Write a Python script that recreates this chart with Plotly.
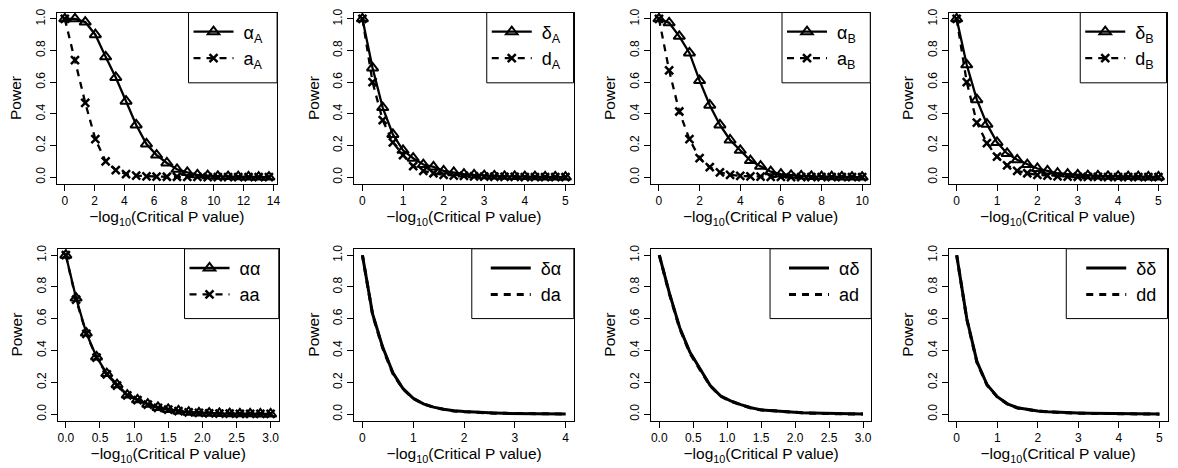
import plotly.graph_objects as go

# ---------------- data ----------------
x_p1 = [0, 0.68, 1.37, 2.05, 2.74, 3.42, 4.11, 4.79, 5.48, 6.16, 6.85, 7.53, 8.22, 8.9, 9.59, 10.27, 10.96, 11.64, 12.33, 13.01, 13.7]
alpha_A = [1.0, 1.0, 0.98, 0.90, 0.76, 0.63, 0.48, 0.33, 0.21, 0.14, 0.09, 0.05, 0.03, 0.015, 0.01, 0.006, 0.004, 0.003, 0.002, 0.001, 0.001]
a_A = [1.0, 0.74, 0.47, 0.24, 0.10, 0.045, 0.02, 0.01, 0.006, 0.004, 0.003, 0.003, 0.002, 0.002, 0.001, 0.001, 0.001, 0.0, 0.0, 0.0, 0.0]

x_p2 = [0, 0.25, 0.5, 0.75, 1.0, 1.25, 1.5, 1.75, 2.0, 2.25, 2.5, 2.75, 3.0, 3.25, 3.5, 3.75, 4.0, 4.25, 4.5, 4.75, 5.0]
delta_A = [1.0, 0.69, 0.44, 0.27, 0.17, 0.12, 0.08, 0.065, 0.04, 0.03, 0.02, 0.015, 0.01, 0.008, 0.006, 0.005, 0.004, 0.003, 0.002, 0.002, 0.001]
d_A = [1.0, 0.60, 0.36, 0.22, 0.14, 0.07, 0.04, 0.025, 0.015, 0.01, 0.008, 0.006, 0.004, 0.003, 0.002, 0.002, 0.001, 0.001, 0.001, 0.0, 0.0]

x_p3 = [0, 0.5, 1.0, 1.5, 2.0, 2.5, 3.0, 3.5, 4.0, 4.5, 5.0, 5.5, 6.0, 6.5, 7.0, 7.5, 8.0, 8.5, 9.0, 9.5, 10.0]
alpha_B = [1.0, 0.975, 0.89, 0.785, 0.61, 0.455, 0.33, 0.235, 0.17, 0.105, 0.07, 0.035, 0.02, 0.012, 0.008, 0.005, 0.004, 0.003, 0.002, 0.001, 0.001]
a_B = [1.0, 0.675, 0.415, 0.24, 0.12, 0.063, 0.03, 0.015, 0.008, 0.005, 0.004, 0.002, 0.002, 0.001, 0.001, 0.001, 0.0, 0.0, 0.0, 0.0, 0.0]

x_p4 = [0, 0.25, 0.5, 0.75, 1.0, 1.25, 1.5, 1.75, 2.0, 2.25, 2.5, 2.75, 3.0, 3.25, 3.5, 3.75, 4.0, 4.25, 4.5, 4.75, 5.0]
delta_B = [1.0, 0.71, 0.49, 0.335, 0.22, 0.15, 0.11, 0.08, 0.055, 0.04, 0.025, 0.02, 0.015, 0.01, 0.008, 0.006, 0.005, 0.004, 0.003, 0.002, 0.002]
d_B = [1.0, 0.60, 0.345, 0.215, 0.13, 0.075, 0.04, 0.025, 0.015, 0.01, 0.006, 0.004, 0.003, 0.002, 0.002, 0.001, 0.001, 0.001, 0.0, 0.0, 0.0]

x_p5 = [0, 0.15, 0.3, 0.45, 0.6, 0.75, 0.9, 1.05, 1.2, 1.35, 1.5, 1.65, 1.8, 1.95, 2.1, 2.25, 2.4, 2.55, 2.7, 2.85, 3.0]
alpha_alpha = [1.0, 0.73, 0.51, 0.36, 0.255, 0.185, 0.12, 0.09, 0.063, 0.042, 0.03, 0.02, 0.012, 0.008, 0.006, 0.004, 0.003, 0.002, 0.002, 0.001, 0.001]
a_a = [1.0, 0.72, 0.505, 0.355, 0.25, 0.18, 0.118, 0.088, 0.06, 0.04, 0.028, 0.019, 0.011, 0.008, 0.005, 0.004, 0.003, 0.002, 0.001, 0.001, 0.001]

x_p6 = [0, 0.2, 0.4, 0.6, 0.8, 1.0, 1.2, 1.4, 1.6, 1.8, 2.0, 2.2, 2.4, 2.6, 2.8, 3.0, 3.2, 3.4, 3.6, 3.8, 4.0]
delta_alpha = [1.0, 0.63, 0.42, 0.26, 0.16, 0.10, 0.065, 0.044, 0.031, 0.021, 0.016, 0.012, 0.009, 0.007, 0.005, 0.004, 0.003, 0.002, 0.002, 0.001, 0.001]
d_a = [1.0, 0.625, 0.415, 0.255, 0.158, 0.098, 0.064, 0.043, 0.03, 0.02, 0.015, 0.011, 0.008, 0.006, 0.005, 0.004, 0.003, 0.002, 0.001, 0.001, 0.001]

x_p7 = [0, 0.15, 0.3, 0.45, 0.6, 0.75, 0.9, 1.05, 1.2, 1.35, 1.5, 1.65, 1.8, 1.95, 2.1, 2.25, 2.4, 2.55, 2.7, 2.85, 3.0]
alpha_delta = [1.0, 0.76, 0.545, 0.39, 0.285, 0.18, 0.115, 0.083, 0.06, 0.04, 0.027, 0.022, 0.017, 0.012, 0.009, 0.007, 0.005, 0.003, 0.002, 0.001, 0.001]
a_d = [1.0, 0.755, 0.54, 0.385, 0.28, 0.178, 0.113, 0.082, 0.059, 0.039, 0.026, 0.021, 0.016, 0.012, 0.009, 0.006, 0.004, 0.003, 0.002, 0.001, 0.001]

x_p8 = [0, 0.25, 0.5, 0.75, 1.0, 1.25, 1.5, 1.75, 2.0, 2.25, 2.5, 2.75, 3.0, 3.25, 3.5, 3.75, 4.0, 4.25, 4.5, 4.75, 5.0]
delta_delta = [1.0, 0.60, 0.33, 0.185, 0.11, 0.065, 0.04, 0.028, 0.02, 0.015, 0.011, 0.009, 0.007, 0.005, 0.004, 0.003, 0.002, 0.002, 0.001, 0.001, 0.001]
d_d = [1.0, 0.595, 0.325, 0.182, 0.108, 0.064, 0.039, 0.027, 0.019, 0.014, 0.01, 0.008, 0.006, 0.005, 0.004, 0.003, 0.002, 0.001, 0.001, 0.001, 0.0]

# tick labels
xticks_p1 = [0, 2, 4, 6, 8, 10, 12, 14]
xticks_int5 = [0, 1, 2, 3, 4, 5]
xticks_p3 = [0, 2, 4, 6, 8, 10]
xticks_dec3 = [0.0, 0.5, 1.0, 1.5, 2.0, 2.5, 3.0]
xticks_int4 = [0, 1, 2, 3, 4]
yticks = [0.0, 0.2, 0.4, 0.6, 0.8, 1.0]

solid_names = ["α<sub>A</sub>", "δ<sub>A</sub>", "α<sub>B</sub>", "δ<sub>B</sub>", "αα", "δα", "αδ", "δδ"]
dashed_names = ["a<sub>A</sub>", "d<sub>A</sub>", "a<sub>B</sub>", "d<sub>B</sub>", "aa", "da", "ad", "dd"]

# ---------------- layout geometry (pixels) ----------------
W, H = 1178, 468
FONT = "Liberation Sans, Arial, sans-serif"

panels = [
    dict(x=x_p1, s=alpha_A, d=a_A, ticks=xticks_p1, fmt="d", dom=(56.8, 277.8), row=0, marks=True, lw=2.3, leg=189, inset=0),
    dict(x=x_p2, s=delta_A, d=d_A, ticks=xticks_int5, fmt="d", dom=(355.2, 575.0), row=0, marks=True, lw=2.3, leg=488, inset=0),
    dict(x=x_p3, s=alpha_B, d=a_B, ticks=xticks_p3, fmt="d", dom=(652.5, 872.5), row=0, marks=True, lw=2.3, leg=784, inset=0),
    dict(x=x_p4, s=delta_B, d=d_B, ticks=xticks_int5, fmt="d", dom=(951.0, 1169.5), row=0, marks=True, lw=2.3, leg=1083, inset=0),
    dict(x=x_p5, s=alpha_alpha, d=a_a, ticks=xticks_dec3, fmt=".1f", dom=(57.8, 279.5), row=1, marks=True, lw=2.3, leg=185, inset=0),
    dict(x=x_p6, s=delta_alpha, d=d_a, ticks=xticks_int4, fmt="d", dom=(355.2, 575.3), row=1, marks=False, lw=3, leg=473, inset=14),
    dict(x=x_p7, s=alpha_delta, d=a_d, ticks=xticks_dec3, fmt=".1f", dom=(652.8, 873.4), row=1, marks=False, lw=3, leg=772, inset=14),
    dict(x=x_p8, s=delta_delta, d=d_d, ticks=xticks_int5, fmt="d", dom=(951.0, 1170.5), row=1, marks=False, lw=3, leg=1069, inset=15),
]
rows_y = [(8.6, 181.1), (246.9, 420.1)]
legend_bottom = [79.5, 317.3]

fig = go.Figure()
layout = dict(
    width=W, height=H, margin=dict(l=0, r=0, t=0, b=0),
    paper_bgcolor="white", plot_bgcolor="white",
    font=dict(family=FONT, color="black", size=12),
    showlegend=True,
)
shapes = []
NB = "\u00a0"

for i, p in enumerate(panels):
    k = i + 1
    xa = "x" if k == 1 else f"x{k}"
    ya = "y" if k == 1 else f"y{k}"
    lg = "legend" if k == 1 else f"legend{k}"
    if p["marks"]:
        fig.add_trace(go.Scatter(
            x=p["x"], y=p["s"], xaxis=xa, yaxis=ya, mode="lines+markers",
            name=NB + solid_names[i], legend=lg, legendgroup=f"s{k}",
            line=dict(color="black", width=p["lw"]),
            marker=dict(symbol="triangle-up-open", size=10, color="black", line=dict(width=2, color="black")),
        ))
        fig.add_trace(go.Scatter(
            x=p["x"], y=p["d"], xaxis=xa, yaxis=ya, mode="lines+markers",
            name=NB + dashed_names[i], legend=lg, legendgroup=f"d{k}",
            line=dict(color="black", width=p["lw"], dash="7px,6px"),
            marker=dict(symbol="x-thin", size=8, color="black", line=dict(width=2.5, color="black")),
        ))
    else:
        fig.add_trace(go.Scatter(
            x=p["x"], y=p["s"], xaxis=xa, yaxis=ya, mode="lines",
            name=NB + solid_names[i], legend=lg, legendgroup=f"s{k}",
            line=dict(color="black", width=p["lw"]),
        ))
        fig.add_trace(go.Scatter(
            x=p["x"], y=p["d"], xaxis=xa, yaxis=ya, mode="lines",
            name=NB + dashed_names[i], legend=lg, legendgroup=f"d{k}",
            line=dict(color="black", width=p["lw"], dash="7px,6px"),
        ))

    xmin, xmax = min(p["x"]), max(p["x"])
    rx = xmax - xmin
    top, bot = rows_y[p["row"]]
    l, r = p["dom"]
    axis_common = dict(
        showline=True, mirror=True, linecolor="black", linewidth=1,
        ticks="outside", ticklen=6, tickwidth=1, tickcolor="black",
        showgrid=False, zeroline=False,
        tickfont=dict(family=FONT, size=12, color="black"),
    )
    layout["xaxis" if k == 1 else f"xaxis{k}"] = dict(
        axis_common, domain=[l / W, r / W], anchor=ya,
        range=[xmin - 0.04 * rx, xmax + 0.04 * rx],
        tickmode="array", tickvals=p["ticks"],
        ticktext=[format(t, p["fmt"]) if p["fmt"] != "d" else str(int(t)) for t in p["ticks"]],
        title=dict(text="\u2212log<sub>10</sub>(Critical P value)", font=dict(family=FONT, size=15.5, color="black"), standoff=4),
    )
    layout["yaxis" if k == 1 else f"yaxis{k}"] = dict(
        axis_common, domain=[1 - bot / H, 1 - top / H], anchor=xa,
        range=[-0.04, 1.04], tickmode="array", tickvals=yticks,
        ticktext=[f"{t:.1f}" for t in yticks], tickangle=-90,
        title=dict(text="Power", font=dict(family=FONT, size=15.5, color="black"), standoff=8),
    )
    # legend frame (R-style box flush with the top-right corner of the plot box)
    shapes.append(dict(
        type="rect", xref="paper", yref="paper", layer="above",
        x0=p["leg"] / W, x1=r / W, y0=1 - legend_bottom[p["row"]] / H, y1=1 - top / H,
        line=dict(color="black", width=1), fillcolor="white",
    ))
    layout[lg] = dict(
        x=(p["leg"] + p["inset"]) / W, xanchor="left", y=1 - (top + 1) / H, yanchor="top",
        bgcolor="rgba(0,0,0,0)", borderwidth=0,
        font=dict(family=FONT, size=18, color="black"),
        tracegroupgap=0 if p["row"] == 0 else 3, itemwidth=40, traceorder="normal",
    )

layout["shapes"] = shapes
fig.update_layout(**layout)
fig.write_html("out.html")
